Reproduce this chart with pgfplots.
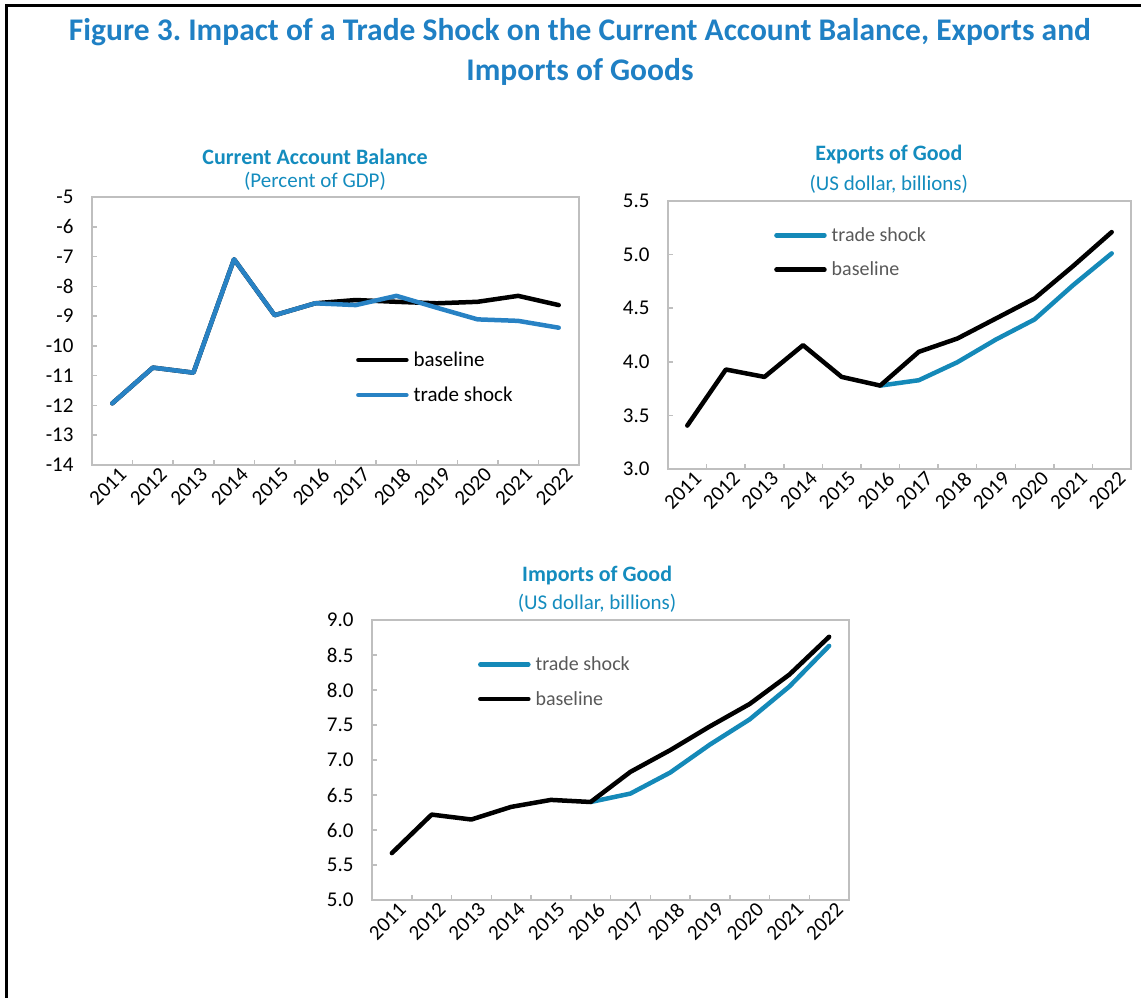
\documentclass[border=0pt]{standalone}
\usepackage{fontspec}
\setmainfont{Carlito}
\usepackage{pgfplots}
\pgfplotsset{compat=1.18}
\frenchspacing
\definecolor{titleblue}{RGB}{31,128,196}
\definecolor{subblue}{RGB}{20,140,190}
\definecolor{caBlue}{RGB}{40,130,196}
\definecolor{tsBlue}{RGB}{20,137,184}
\definecolor{axgray}{RGB}{191,191,191}
\definecolor{leggray}{RGB}{89,89,89}
\pgfplotsset{mybase/.style={
  scale only axis, clip=false,
  xmin=-0.5, xmax=11.5,
  xtick={0.5,1.5,...,10.5}, xticklabels={},
  extra x ticks={0,1,2,3,4,5,6,7,8,9,10,11},
  extra x tick labels={2011,2012,2013,2014,2015,2016,2017,2018,2019,2020,2021,2022},
  extra x tick style={major tick length=0pt},
  xtick pos=bottom, ytick pos=left,
  xticklabel style={rotate=45, anchor=north east, font=\fontsize{21}{21}\selectfont, inner sep=1pt, xshift=4pt, yshift=-4pt},
  yticklabel style={font=\fontsize{21}{21}\selectfont, xshift=-15pt},
  /pgf/number format/assume math mode=true,
  tick align=inside, major tick length=5pt,
  axis line style={axgray, line width=2pt},
  tick style={axgray, line width=1.5pt},
  every axis plot/.append style={line width=4.5pt, line cap=round, line join=round},
  legend style={draw=none, fill=none, font=\fontsize{20}{20}\selectfont, inner sep=0pt, row sep=15pt, column sep=3pt, anchor=west},
  legend cell align=left,
  legend image code/.code={\draw[##1] (0pt,0pt) -- (48pt,0pt);},
}}
\begin{document}
\begin{tikzpicture}[x=1pt,y=1pt]
\useasboundingbox (0pt,0pt) rectangle (1146pt,998pt);
\draw[line width=3pt] (6pt,0pt) -- (6pt,992.5pt) -- (1141pt,992.5pt);
\node[align=center, text=titleblue, font=\fontsize{31.5}{40}\selectfont\bfseries] at (580pt,946pt) {Figure 3. Impact of a Trade Shock on the Current Account Balance, Exports and\\Imports of Goods};

% Chart 1
\begin{axis}[mybase, at={(92pt,533pt)}, anchor=south west, width=487pt, height=268pt,
  ymin=-14, ymax=-5, ytick={-14,-13,...,-5},
  yticklabels={-14,-13,-12,-11,-10,-9,-8,-7,-6,-5},
  legend style={at={(0.542,0.3265)}, font=\fontsize{21}{21}\selectfont}]
\addplot[black] coordinates {(0,-11.93) (1,-10.73) (2,-10.90) (3,-7.09) (4,-8.97) (5,-8.57) (6,-8.46) (7,-8.52) (8,-8.57) (9,-8.52) (10,-8.32) (11,-8.63)};
\addlegendentry{baseline}
\addplot[caBlue] coordinates {(0,-11.93) (1,-10.73) (2,-10.90) (3,-7.09) (4,-8.97) (5,-8.57) (6,-8.63) (7,-8.32) (8,-8.72) (9,-9.11) (10,-9.16) (11,-9.39)};
\addlegendentry{trade shock}
\node[font=\fontsize{22}{22}\selectfont\bfseries, text=subblue, yshift=40pt] at (rel axis cs:0.458,1) {Current Account Balance};
\node[font=\fontsize{21}{21}\selectfont, text=subblue, yshift=16pt] at (rel axis cs:0.458,1) {(Percent of GDP)};
\end{axis}

% Chart 2
\begin{axis}[mybase, at={(668pt,529pt)}, anchor=south west, width=463pt, height=268pt,
  ymin=3, ymax=5.5, ytick={3,3.5,4,4.5,5,5.5},
  yticklabels={3.0,3.5,4.0,4.5,5.0,5.5},
  legend style={at={(0.229,0.808)}, text=leggray}]
\addplot[tsBlue] coordinates {(5,3.778) (6,3.828) (7,3.996) (8,4.208) (9,4.395) (10,4.715) (11,5.011)};
\addlegendentry{trade shock}
\addplot[black] coordinates {(0,3.405) (1,3.928) (2,3.859) (3,4.155) (4,3.859) (5,3.778) (6,4.093) (7,4.217) (8,4.404) (9,4.591) (10,4.893) (11,5.210)};
\addlegendentry{baseline}
\node[font=\fontsize{22}{22}\selectfont\bfseries, text=subblue, yshift=46pt] at (rel axis cs:0.477,1) {Exports of Good};
\node[font=\fontsize{21}{21}\selectfont, text=subblue, yshift=17pt] at (rel axis cs:0.477,1) {(US dollar, billions)};
\end{axis}

% Chart 3
\begin{axis}[mybase, at={(372pt,98pt)}, anchor=south west, width=477pt, height=280pt,
  ymin=5, ymax=9, ytick={5,5.5,...,9},
  yticklabels={5.0,5.5,6.0,6.5,7.0,7.5,8.0,8.5,9.0},
  legend style={at={(0.222,0.779)}, text=leggray}]
\addplot[tsBlue] coordinates {(5,6.40) (6,6.52) (7,6.82) (8,7.22) (9,7.58) (10,8.05) (11,8.63)};
\addlegendentry{trade shock}
\addplot[black] coordinates {(0,5.67) (1,6.22) (2,6.15) (3,6.33) (4,6.43) (5,6.40) (6,6.83) (7,7.14) (8,7.48) (9,7.80) (10,8.22) (11,8.76)};
\addlegendentry{baseline}
\node[font=\fontsize{22}{22}\selectfont\bfseries, text=subblue, yshift=44pt] at (rel axis cs:0.472,1) {Imports of Good};
\node[font=\fontsize{21}{21}\selectfont, text=subblue, yshift=17pt] at (rel axis cs:0.472,1) {(US dollar, billions)};
\end{axis}
\end{tikzpicture}
\end{document}
